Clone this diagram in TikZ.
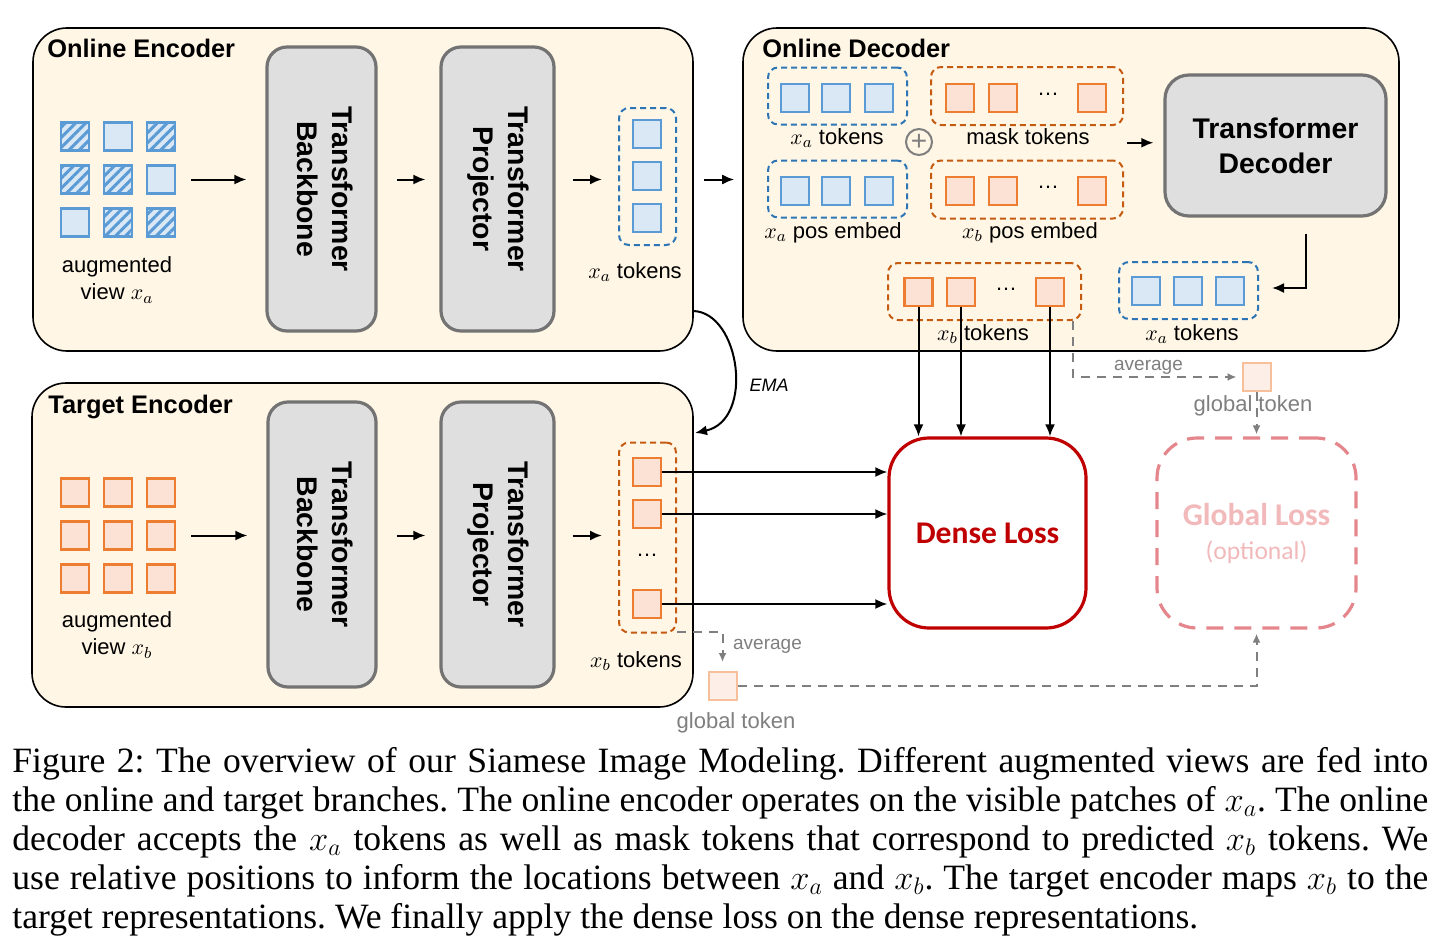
\documentclass[tikz,border=0pt]{standalone}
\usepackage{graphicx}
\usepackage{fontspec}
\setmainfont{Liberation Sans}
\newfontfamily\capfont{Liberation Serif}
\newfontfamily\lossfont{Carlito}
\usetikzlibrary{arrows.meta, positioning, calc, patterns.meta}

\definecolor{panelbg}{HTML}{FFF6E5}
\definecolor{blockbg}{HTML}{DFDFDF}
\definecolor{blockline}{HTML}{737373}
\definecolor{tokblue}{HTML}{5B9BD5}
\definecolor{tokbluebg}{HTML}{DAE8F6}
\definecolor{dashblue}{HTML}{2E75B6}
\definecolor{tokorange}{HTML}{ED7D31}
\definecolor{tokorangebg}{HTML}{FBE2D5}
\definecolor{dashorange}{HTML}{C55A11}
\definecolor{lossred}{HTML}{C00000}
\definecolor{globred}{HTML}{E4868B}
\definecolor{globtxt}{HTML}{F2B9BB}
\definecolor{gtokline}{HTML}{F8C09A}
\definecolor{gtokbg}{HTML}{FDEFE8}
\definecolor{avggray}{HTML}{7F7F7F}

\newcommand{\sidetext}[1]{\rotatebox{-90}{\begin{tabular}{@{}c@{}}#1\end{tabular}}}

\begin{document}
\frenchspacing
\begin{tikzpicture}[
  x=0.5pt, y=-0.5pt,
  panel/.style = {draw, line width=0.8pt, fill=panelbg, rounded corners=17pt, inner sep=0},
  ptitle/.style = {anchor=base west, inner sep=0, font=\bfseries\fontsize{12.7}{15}\selectfont},
  block/.style = {draw=blockline, fill=blockbg, line width=1.6pt, rounded corners=10pt, inner sep=0,
                  font=\bfseries\fontsize{14.2}{17.5}\selectfont},
  bluetok/.style = {draw=tokblue, fill=tokbluebg, line width=1.2pt, minimum size=14pt, inner sep=0},
  orangetok/.style = {draw=tokorange, fill=tokorangebg, line width=1.2pt, minimum size=14pt, inner sep=0},
  hatched/.style = {bluetok, preaction={fill=tokbluebg},
                    pattern={Lines[angle=45, distance=3.6pt, line width=1.5pt]}, pattern color=tokblue},
  bluegroup/.style = {draw=dashblue, dash pattern=on 3pt off 2pt, line width=1pt, rounded corners=5pt, inner sep=0},
  orangegroup/.style = {draw=dashorange, dash pattern=on 3pt off 2pt, line width=1pt, rounded corners=5pt, inner sep=0},
  txt/.style = {anchor=base, inner sep=0, font=\fontsize{11}{13.5}\selectfont},
  graytxt/.style = {txt, text=avggray},
  gtok/.style = {draw=gtokline, fill=gtokbg, line width=1pt, minimum size=14pt, inner sep=0},
  arrow/.style = {line width=1pt, -{Latex[length=6pt, width=5pt]}},
  avgline/.style = {draw=avggray, line width=1pt, dash pattern=on 4.5pt off 3.5pt, -{Latex[length=4.5pt, width=4pt]}},
  capline/.style = {anchor=base west, inner sep=0, font=\capfont\fontsize{17.8}{19.5}\selectfont}
]
\useasboundingbox (0,0) rectangle (1440,942);
\fill[white] (0,0) rectangle (1440,942);

  % Panels
  \node[panel, minimum width=330pt, minimum height=161.5pt] (oenc) at (363,189.5) {};
  \node[panel, minimum width=328pt, minimum height=161.5pt] (odec) at (1071,189.5) {};
  \node[panel, minimum width=330.5pt, minimum height=162pt] (tenc) at (362.5,545) {};
  \node[ptitle] (oenctitle) at (47,57) {Online Encoder};
  \node[ptitle] (odectitle) at (762,57) {Online Decoder};
  \node[ptitle] (tenctitle) at (48,413) {Target Encoder};

  % Online Encoder
  \foreach \r/\c/\kind in {1/1/hatched,1/2/bluetok,1/3/hatched,2/1/hatched,2/2/hatched,2/3/bluetok,3/1/bluetok,3/2/hatched,3/3/hatched}
    \node[\kind] (op\r\c) at ({32+43*\c},{93.5+43*\r}) {};
  \node[txt, anchor=center, align=center] (oview) at (117,280) {augmented\\view $x_a$};
  \node[block, minimum width=54.5pt, minimum height=142pt] (obb) at (321.5,189) {\sidetext{Transformer\\Backbone}};
  \node[block, minimum width=56.5pt, minimum height=142pt] (oproj) at (497.5,189) {\sidetext{Transformer\\Projector}};
  \node[bluegroup, minimum width=28.5pt, minimum height=68.5pt] (oxtok) at (647.5,176.5) {};
  \foreach \y [count=\i] in {134,176,218}
    \node[bluetok] (ox\i) at (647,\y) {};
  \node[txt] (oxtoklbl) at (635,278) {$x_a$ tokens};

  \draw[arrow, shorten <=7.5pt, shorten >=9.5pt] (op23.east) -- (op23 -| obb.west);
  \draw[arrow, shorten <=9.5pt, shorten >=7pt] (obb.east |- op23) -- (oproj.west |- op23);
  \draw[arrow, shorten <=8.5pt, shorten >=8pt] (oproj.east |- op23) -- (oxtok.west |- op23);
  \draw[arrow, shorten <=13.5pt, shorten >=4pt] (oxtok.east |- op23) -- (odec.west |- op23);

  % Target Encoder
  \foreach \r in {1,2,3}
    \foreach \c in {1,2,3}
      \node[orangetok] (tp\r\c) at ({32+43*\c},{449.5+43*\r}) {};
  \node[txt, anchor=center, align=center] (tview) at (117,635) {augmented\\view $x_b$};
  \node[block, minimum width=54pt, minimum height=142.5pt] (tbb) at (322,544.5) {\sidetext{Transformer\\Backbone}};
  \node[block, minimum width=56.5pt, minimum height=142.5pt] (tproj) at (497.5,544.5) {\sidetext{Transformer\\Projector}};
  \node[orangegroup, minimum width=28.5pt, minimum height=95pt] (txtok) at (647.5,537.5) {};
  \foreach \y [count=\i] in {472,514,604}
    \node[orangetok] (tx\i) at (647,\y) {};
  \node[txt] (tdots) at (647,556) {\ldots};
  \node[txt] (txtoklbl) at (636,667) {$x_b$ tokens};

  \draw[arrow, shorten <=7.5pt, shorten >=9.5pt] (tp23.east) -- (tp23 -| tbb.west);
  \draw[arrow, shorten <=9.5pt, shorten >=7pt] (tbb.east |- tp23) -- (tproj.west |- tp23);
  \draw[arrow, shorten <=8.5pt, shorten >=8pt] (tproj.east |- tp23) -- (txtok.west |- tp23);

  % EMA update
  \draw[arrow] (693,311) .. controls (740,312) and (755,420) .. (695,433);
  \node[txt, font=\itshape\fontsize{9}{11}\selectfont] (ema) at (769,391) {EMA};

  % Online Decoder
  \node[bluegroup, minimum width=69.5pt, minimum height=28.5pt] (dxa) at (837.5,96) {};
  \node[orangegroup, minimum width=96pt, minimum height=29pt] (dmask) at (1027,96) {};
  \node[bluegroup, minimum width=69.5pt, minimum height=28.5pt] (dapos) at (837.5,189) {};
  \node[orangegroup, minimum width=96pt, minimum height=29pt] (dbpos) at (1027,189.5) {};
  \foreach \x [count=\i] in {795,836,879} {
    \node[bluetok] (da\i) at (\x,98) {};
    \node[bluetok] (dp\i) at (\x,191) {};
  }
  \foreach \x [count=\i] in {960,1003,1092} {
    \node[orangetok] (dm\i) at (\x,98) {};
    \node[orangetok] (dq\i) at (\x,191) {};
  }
  \node[txt] (mdots) at (1048,95) {\ldots};
  \node[txt] (pdots) at (1048,188) {\ldots};
  \node[txt] (dxalbl) at (837,144) {$x_a$ tokens};
  \node[txt] (dmasklbl) at (1028,144) {mask tokens};
  \node[txt] (daposlbl) at (833,238) {$x_a$ pos embed};
  \node[txt] (dbposlbl) at (1030,238) {$x_b$ pos embed};
  \node[circle, draw=avggray, line width=1pt, minimum size=13pt, inner sep=0, text=avggray,
        font=\fontsize{14}{14}\selectfont] (plus) at (919,142) {+};

  \node[block, minimum width=110.5pt, minimum height=70.5pt, rounded corners=12pt, align=center] (dec) at (1275.5,145.5) {Transformer\\Decoder};
  \coordinate (decin) at ($(dmask.east)!0.5!(dbpos.east)$);
  \draw[arrow, shorten <=1.5pt, shorten >=5pt] (decin) -- (decin -| dec.west);

  \node[orangegroup, minimum width=96.5pt, minimum height=28.5pt] (dxb) at (984.5,291.5) {};
  \node[bluegroup, minimum width=69.5pt, minimum height=28.5pt] (dxa2) at (1188.5,290.5) {};
  \foreach \x [count=\i] in {918.5,961,1050}
    \node[orangetok] (xb\i) at (\x,292) {};
  \foreach \x [count=\i] in {1146,1188,1230}
    \node[bluetok] (xa\i) at (\x,291) {};
  \node[txt] (xbdots) at (1006,290) {\ldots};
  \node[txt] (dxblbl) at (983,340) {$x_b$ tokens};
  \node[txt] (dxa2lbl) at (1192,340) {$x_a$ tokens};
  \draw[arrow] ($(dec.south)+(30.5,16)$) |- ($(dxa2.east)+(13,-2.5)$);

  % Losses
  \node[draw=lossred, line width=1.6pt, rounded corners=20pt, minimum width=98.5pt, minimum height=95pt,
        text=lossred, font=\lossfont\bfseries\fontsize{15.8}{18}\selectfont] (dense) at (987.5,533) {Dense Loss};
  \node[draw=globred, dash pattern=on 8.5pt off 5.5pt, line width=1.6pt, rounded corners=20pt,
        minimum width=99.5pt, minimum height=95pt, text=globtxt, align=center,
        font=\lossfont\fontsize{15.8}{17}\selectfont] (glob) at (1256.5,533)
        {{\bfseries Global Loss}\\{\fontsize{12.8}{14}\selectfont (optional)}};

  \foreach \i in {1,2,3}
    \draw[arrow] (xb\i.south) -- (xb\i.south |- dense.north);
  \foreach \i in {1,2,3}
    \draw[arrow] (tx\i.east) -- (tx\i.east -| dense.west);

  % Global tokens
  \node[gtok] (gt1) at (1256.5,377) {};
  \node[gtok] (gt2) at (722.5,686) {};
  \node[graytxt, font=\fontsize{9.5}{11}\selectfont] (avg1) at (1148.5,370) {average};
  \node[graytxt] (gt1lbl) at (1253,411) {global token};
  \node[graytxt, font=\fontsize{9.5}{11}\selectfont] (avg2) at (767.5,649) {average};
  \node[graytxt] (gt2lbl) at (736,728) {global token};

  \draw[avgline, shorten >=2.5pt] ([xshift=-4.5pt]dxb.south east) |- (gt1.west);
  \draw[avgline, shorten >=1pt] (gt1.south) -- (glob.north);
  \draw[avgline, shorten >=4.5pt] ([yshift=1pt]txtok.south east) -| (gt2.north);
  \draw[avgline, shorten >=2pt] (gt2.east) -| (glob.south);

  % Caption
  \node[capline] (cap1) at (12,772) {\makebox[708pt][s]{Figure 2: The overview of our Siamese Image Modeling. Different augmented views are fed into}};
  \node[capline] (cap2) at (12,811) {\makebox[708pt][s]{the online and target branches. The online encoder operates on the visible patches of $x_a$. The online}};
  \node[capline] (cap3) at (12,850) {\makebox[708pt][s]{decoder accepts the $x_a$ tokens as well as mask tokens that correspond to predicted $x_b$ tokens. We}};
  \node[capline] (cap4) at (12,889) {\makebox[708pt][s]{use relative positions to inform the locations between $x_a$ and $x_b$. The target encoder maps $x_b$ to the}};
  \node[capline] (cap5) at (12,928) {target representations. We finally apply the dense loss on the dense representations.};

\end{tikzpicture}
\end{document}
